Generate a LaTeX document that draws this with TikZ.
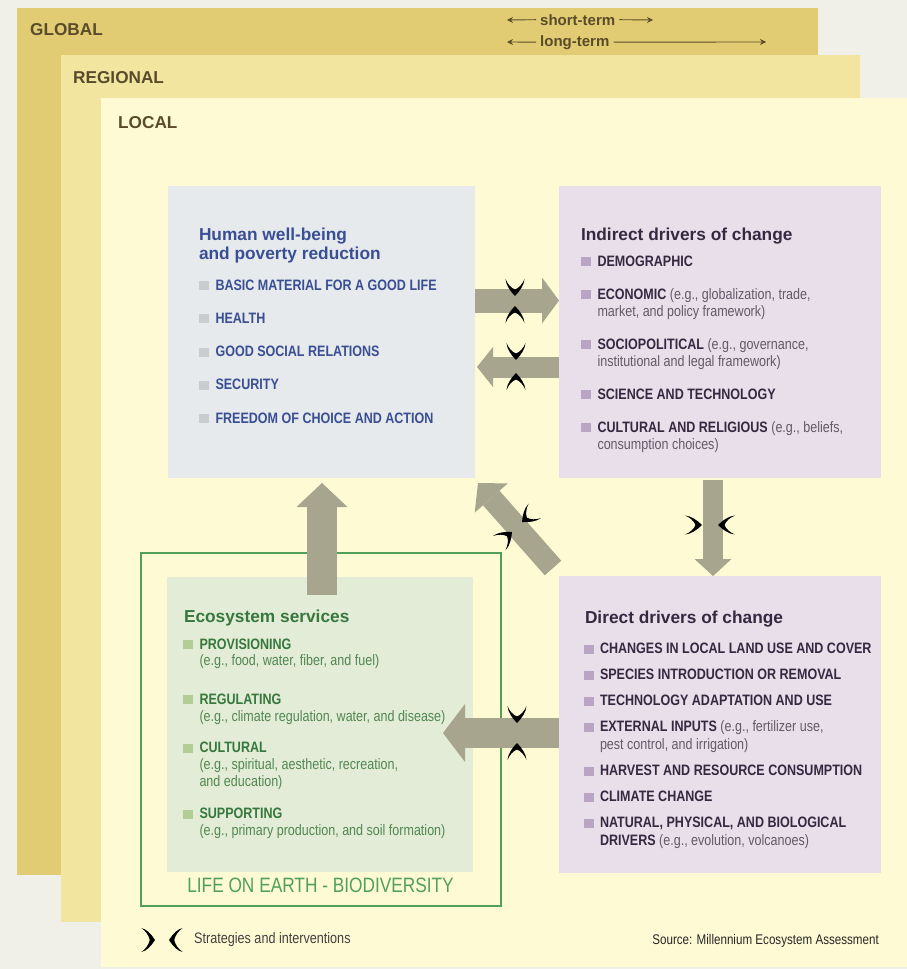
\documentclass[tikz,border=0pt]{standalone}
\usepackage{fontspec}
\setmainfont{Liberation Sans}
\newfontfamily\narrow{Liberation Sans}[FakeStretch=0.83]
\usetikzlibrary{arrows.meta,calc}
\definecolor{bgcolor}{RGB}{241, 240, 232}
\definecolor{globalcolor}{RGB}{225, 204, 115}
\definecolor{regioncolor}{RGB}{242, 229, 160}
\definecolor{localcolor}{RGB}{254, 250, 212}
\definecolor{labelcolor}{RGB}{90, 76, 42}
\definecolor{arrowcolor}{RGB}{168, 165, 143}
\definecolor{hwbcolor}{RGB}{230, 234, 237}
\definecolor{hwbtext}{RGB}{58, 78, 148}
\definecolor{hwbbullet}{RGB}{202, 204, 207}
\definecolor{drvcolor}{RGB}{233, 223, 234}
\definecolor{drvtext}{RGB}{55, 40, 65}
\definecolor{drvsoft}{RGB}{100, 88, 105}
\definecolor{drvbullet}{RGB}{185, 165, 195}
\definecolor{ecocolor}{RGB}{226, 236, 214}
\definecolor{ecotext}{RGB}{55, 120, 62}
\definecolor{ecosoft}{RGB}{82, 135, 82}
\definecolor{ecobullet}{RGB}{180, 205, 150}
\definecolor{framecolor}{RGB}{80, 160, 90}

\newcommand{\bx}[1]{\textcolor{#1}{\rule{10pt}{9pt}}\hspace{6.5pt}}
\newcommand{\soft}[2]{\textcolor{#1}{\mdseries #2}}
\newcommand{\indnt}{\hspace*{16.5pt}}

\begin{document}
\begin{tikzpicture}[
    x=1pt, y=-1pt,
    layer/.style={anchor=north west, inner sep=0pt, outer sep=0pt},
    txt/.style={anchor=north west, inner sep=0pt, outer sep=0pt, align=left},
    title/.style={txt, font=\fontsize{17.3}{17.5}\selectfont\bfseries},
    items/.style={txt, font=\narrow\bfseries\fontsize{15.1}{#1}\selectfont},
    scalelbl/.style={anchor=base west, inner sep=0pt, text=labelcolor, font=\fontsize{17.2}{20}\selectfont\bfseries},
    timelbl/.style={anchor=base west, inner sep=0pt, text=labelcolor, font=\fontsize{15}{18}\selectfont\bfseries},
    tarrow/.style={draw=labelcolor, line width=0.9pt, shorten <=4pt, -{Stealth[length=6pt, width=6pt]}},
    flow/.style n args={3}{draw=arrowcolor, line width=#1, -{Triangle[width=#2, length=#3, line width=0pt]}},
    strat/.pic={\fill[black] (0,0) .. controls (-5,-5) and (-11,-9) .. (-17,-9.5)
        .. controls (-12,-7.5) and (-8,-4) .. (-6.5,0)
        .. controls (-8,4) and (-12,7.5) .. (-17,9.5)
        .. controls (-11,9) and (-5,5) .. (0,0) -- cycle;}
]
    \useasboundingbox (0,0) rectangle (907,969);
    \fill[bgcolor] (0,0) rectangle (907,969);

    % Scales
    \node[layer, fill=globalcolor, minimum width=801pt, minimum height=867pt] (global) at (17,8) {};
    \node[layer, fill=regioncolor, minimum width=799pt, minimum height=867pt] (regional) at (61,55) {};
    \node[layer, fill=localcolor, minimum width=806pt, minimum height=869pt] (local) at (101,98) {};
    \node[scalelbl] (globallbl) at (30,35) {GLOBAL};
    \node[scalelbl] (regionallbl) at (73,83) {REGIONAL};
    \node[scalelbl] (locallbl) at (118,128) {LOCAL};

    % Time
    \node[timelbl] (shortlbl) at (540,25) {short-term};
    \node[timelbl] (longlbl) at (540,46) {long-term};
    \coordinate (shortl) at (507,20);
    \coordinate (shortr) at (653,20);
    \coordinate (longl) at (507,42);
    \coordinate (longr) at (766,42);
    \draw[tarrow] (shortlbl.west) -- (shortl);
    \draw[tarrow] (shortlbl.east) -- (shortr);
    \draw[tarrow] (longlbl.west) -- (longl);
    \draw[tarrow] (longlbl.east) -- (longr);

    % Boxes
    \node[draw=framecolor, line width=2.5pt, layer, minimum width=360pt, minimum height=353pt] (life) at (141,553) {};
    \node[layer, fill=hwbcolor, minimum width=307pt, minimum height=292pt] (hwb) at (168,186) {};
    \node[layer, fill=drvcolor, minimum width=322pt, minimum height=292pt] (ind) at (559,186) {};
    \node[layer, fill=drvcolor, minimum width=322pt, minimum height=297pt] (dir) at (559,576) {};
    \node[layer, fill=ecocolor, minimum width=306pt, minimum height=295pt] (eco) at (167,577) {};

    % Human well-being
    \node[title, text=hwbtext] (hwbtitle) at (199,228) {\strut Human well-being\\and poverty reduction};
    \node[items=17pt, text=hwbtext] (hwblist) at (199,278.1) {\strut\bx{hwbbullet}BASIC MATERIAL FOR A GOOD LIFE\\[16.3pt]
        \bx{hwbbullet}HEALTH\\[16.3pt]
        \bx{hwbbullet}GOOD SOCIAL RELATIONS\\[16.3pt]
        \bx{hwbbullet}SECURITY\\[16.3pt]
        \bx{hwbbullet}FREEDOM OF CHOICE AND ACTION};

    % Indirect drivers
    \node[title, text=drvtext] (indtitle) at (581,228.45) {\strut Indirect drivers of change};
    \node[items=17pt, text=drvtext] (indlist) at (581,254.1) {\strut\bx{drvbullet}DEMOGRAPHIC\\[16pt]
        \bx{drvbullet}ECONOMIC \soft{drvsoft}{(e.g., globalization, trade,}\\
        \indnt\soft{drvsoft}{market, and policy framework)}\\[16pt]
        \bx{drvbullet}SOCIOPOLITICAL \soft{drvsoft}{(e.g., governance,}\\
        \indnt\soft{drvsoft}{institutional and legal framework)}\\[16pt]
        \bx{drvbullet}SCIENCE AND TECHNOLOGY\\[16pt]
        \bx{drvbullet}CULTURAL AND RELIGIOUS \soft{drvsoft}{(e.g., beliefs,}\\
        \indnt\soft{drvsoft}{consumption choices)}};

    % Direct drivers
    \node[title, text=drvtext] (dirtitle) at (585,611.25) {\strut Direct drivers of change};
    \node[items=18pt, text=drvtext] (dirlist) at (583.5,641) {\strut\bx{drvbullet}CHANGES IN LOCAL LAND USE AND COVER\\[8pt]
        \bx{drvbullet}SPECIES INTRODUCTION OR REMOVAL\\[8pt]
        \bx{drvbullet}TECHNOLOGY ADAPTATION AND USE\\[8pt]
        \bx{drvbullet}EXTERNAL INPUTS \soft{drvsoft}{(e.g., fertilizer use,}\\
        \indnt\soft{drvsoft}{pest control, and irrigation)}\\[8pt]
        \bx{drvbullet}HARVEST AND RESOURCE CONSUMPTION\\[8pt]
        \bx{drvbullet}CLIMATE CHANGE\\[8pt]
        \bx{drvbullet}NATURAL, PHYSICAL, AND BIOLOGICAL\\
        \indnt DRIVERS \soft{drvsoft}{(e.g., evolution, volcanoes)}};

    % Ecosystem services
    \node[title, text=ecotext] (ecotitle) at (184,610.45) {\strut Ecosystem services};
    \node[items=16.7pt, text=ecotext] (ecolist) at (183,637.3) {\strut\bx{ecobullet}PROVISIONING\\
        \indnt\soft{ecosoft}{(e.g., food, water, fiber, and fuel)}\\[21.9pt]
        \bx{ecobullet}REGULATING\\
        \indnt\soft{ecosoft}{(e.g., climate regulation, water, and disease)}\\[15pt]
        \bx{ecobullet}CULTURAL\\
        \indnt\soft{ecosoft}{(e.g., spiritual, aesthetic, recreation,}\\
        \indnt\soft{ecosoft}{and education)}\\[16pt]
        \bx{ecobullet}SUPPORTING\\
        \indnt\soft{ecosoft}{(e.g., primary production, and soil formation)}};
    \node[anchor=base, inner sep=0pt, text=framecolor, font=\narrow\fontsize{20.8}{22}\selectfont] (lifelbl) at (320.5,892.7) {LIFE ON EARTH - BIODIVERSITY};

    % Links
    \draw[flow={24pt}{46pt}{17pt}] (hwb.east |- 0,300.5) -- (ind.west |- 0,300.5);
    \draw[flow={21pt}{40pt}{16pt}] (ind.west |- 0,367) -- ($(hwb.east |- 0,367)+(2,0)$);
    \draw[flow={30pt}{51pt}{24pt}] ($(eco.north -| 322,0)+(0,18)$) -- ($(hwb.south -| 322,0)+(0,5)$);
    \draw[flow={22pt}{44pt}{20pt}] ($(dir.north west)+(-6,-8)$) -- ($(hwb.south east)+(3,5)$);
    \draw[flow={20pt}{37pt}{17pt}] ($(ind.south -| 713,0)+(0,2)$) -- (dir.north -| 713,0);
    \draw[flow={30pt}{58pt}{22pt}] (dir.west |- 0,733) -- ($(eco.east |- 0,733)+(-30,0)$);

    % Strategies and interventions
    \pic[rotate=-90] at (515,296) {strat};
    \pic[rotate=90] at (515,306) {strat};
    \pic[rotate=-90] at (516,360) {strat};
    \pic[rotate=90] at (516,373) {strat};
    \pic[rotate=-90] at (517,723) {strat};
    \pic[rotate=90] at (517,743) {strat};
    \pic[rotate=0] at (702,525) {strat};
    \pic[rotate=180] at (718,525) {strat};
    \pic[rotate=221] at (522,522) {strat};
    \pic[rotate=41] at (512,532) {strat};

    % Legend
    \pic[xscale=0.8, yscale=1.25] at (155,940) {strat};
    \pic[rotate=180, xscale=0.8, yscale=1.25] at (169,940) {strat};
    \node[anchor=base west, inner sep=0pt, text=black!75, font=\narrow\fontsize{15.2}{16}\selectfont] (legtxt) at (194,943) {Strategies and interventions};
    \node[anchor=base east, inner sep=0pt, text=black!85, font=\narrow\fontsize{14}{16}\selectfont] (srctxt) at (879,944) {Source: Millennium Ecosystem Assessment};
\end{tikzpicture}
\end{document}
